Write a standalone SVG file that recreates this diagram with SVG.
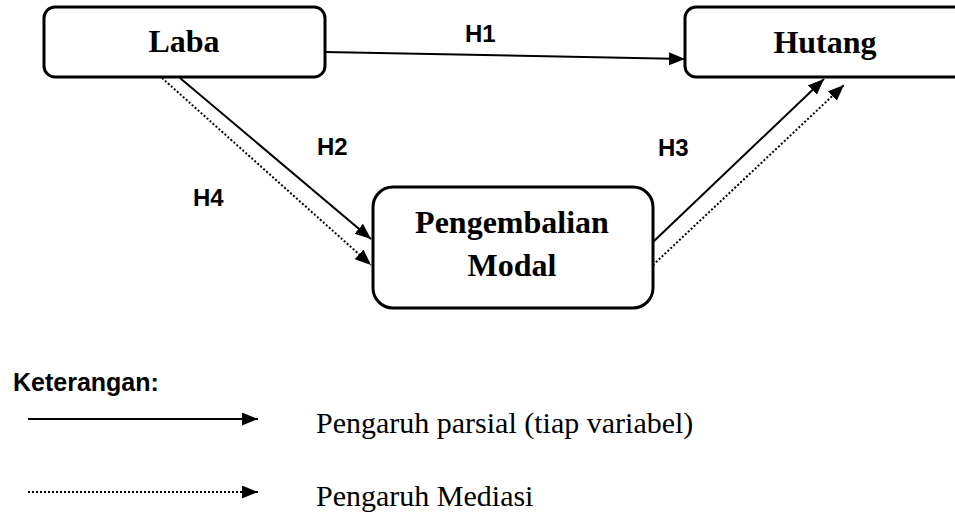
<svg xmlns="http://www.w3.org/2000/svg" width="955" height="517" viewBox="0 0 955 517">
<style>
.box{fill:#fff;stroke:#000;stroke-width:3}
.nt{font-family:"Liberation Serif","Times New Roman",serif;font-weight:bold;font-size:32px;text-anchor:middle;fill:#000}
.lb{font-family:"Liberation Sans",Arial,sans-serif;font-weight:bold;font-size:24px;fill:#000}
.lg{font-family:"Liberation Serif","Times New Roman",serif;font-size:30px;fill:#000}
.solid{fill:none;stroke:#000;stroke-width:2}
.dot{fill:none;stroke:#000;stroke-width:2;stroke-dasharray:2 2}
</style>
<defs>
<marker id="ah" markerUnits="userSpaceOnUse" markerWidth="17" markerHeight="14" refX="16" refY="6.5" orient="auto">
<path d="M0,0 L16,6.5 L0,13 z" fill="#000"/>
</marker>
</defs>
<rect width="955" height="517" fill="#fff"/>
<g id="laba">
<rect class="box" x="44" y="7" width="281" height="70" rx="11"/>
<text class="nt" x="184" y="52">Laba</text>
</g>
<g id="hutang">
<rect class="box" x="685" y="7" width="290" height="70" rx="11"/>
<text class="nt" x="825" y="53">Hutang</text>
</g>
<g id="pengembalian-modal">
<rect class="box" x="373" y="187" width="280" height="121" rx="20"/>
<text class="nt" x="512" y="233">Pengembalian</text>
<text class="nt" x="512" y="276">Modal</text>
</g>
<g id="connectors">
<path class="solid" d="M325,52 L685,59" marker-end="url(#ah)"/>
<path class="solid" d="M180,78 L371,239" marker-end="url(#ah)"/>
<path class="dot" d="M162,78 L371,265" marker-end="url(#ah)"/>
<path class="solid" d="M653,242 L824,79" marker-end="url(#ah)"/>
<path class="dot" d="M653,265 L844,85" marker-end="url(#ah)"/>
</g>
<g id="labels">
<text class="lb" x="465" y="42">H1</text>
<text class="lb" x="317" y="155">H2</text>
<text class="lb" x="658" y="156">H3</text>
<text class="lb" x="193" y="206">H4</text>
</g>
<g id="legend">
<text class="lb" x="13" y="391" style="font-size:25px">Keterangan:</text>
<path class="solid" d="M28,419 L258,419" marker-end="url(#ah)"/>
<path class="dot" d="M28,492 L258,492" marker-end="url(#ah)"/>
<text class="lg" x="316" y="433">Pengaruh parsial (tiap variabel)</text>
<text class="lg" x="316" y="506">Pengaruh Mediasi</text>
</g>
</svg>
